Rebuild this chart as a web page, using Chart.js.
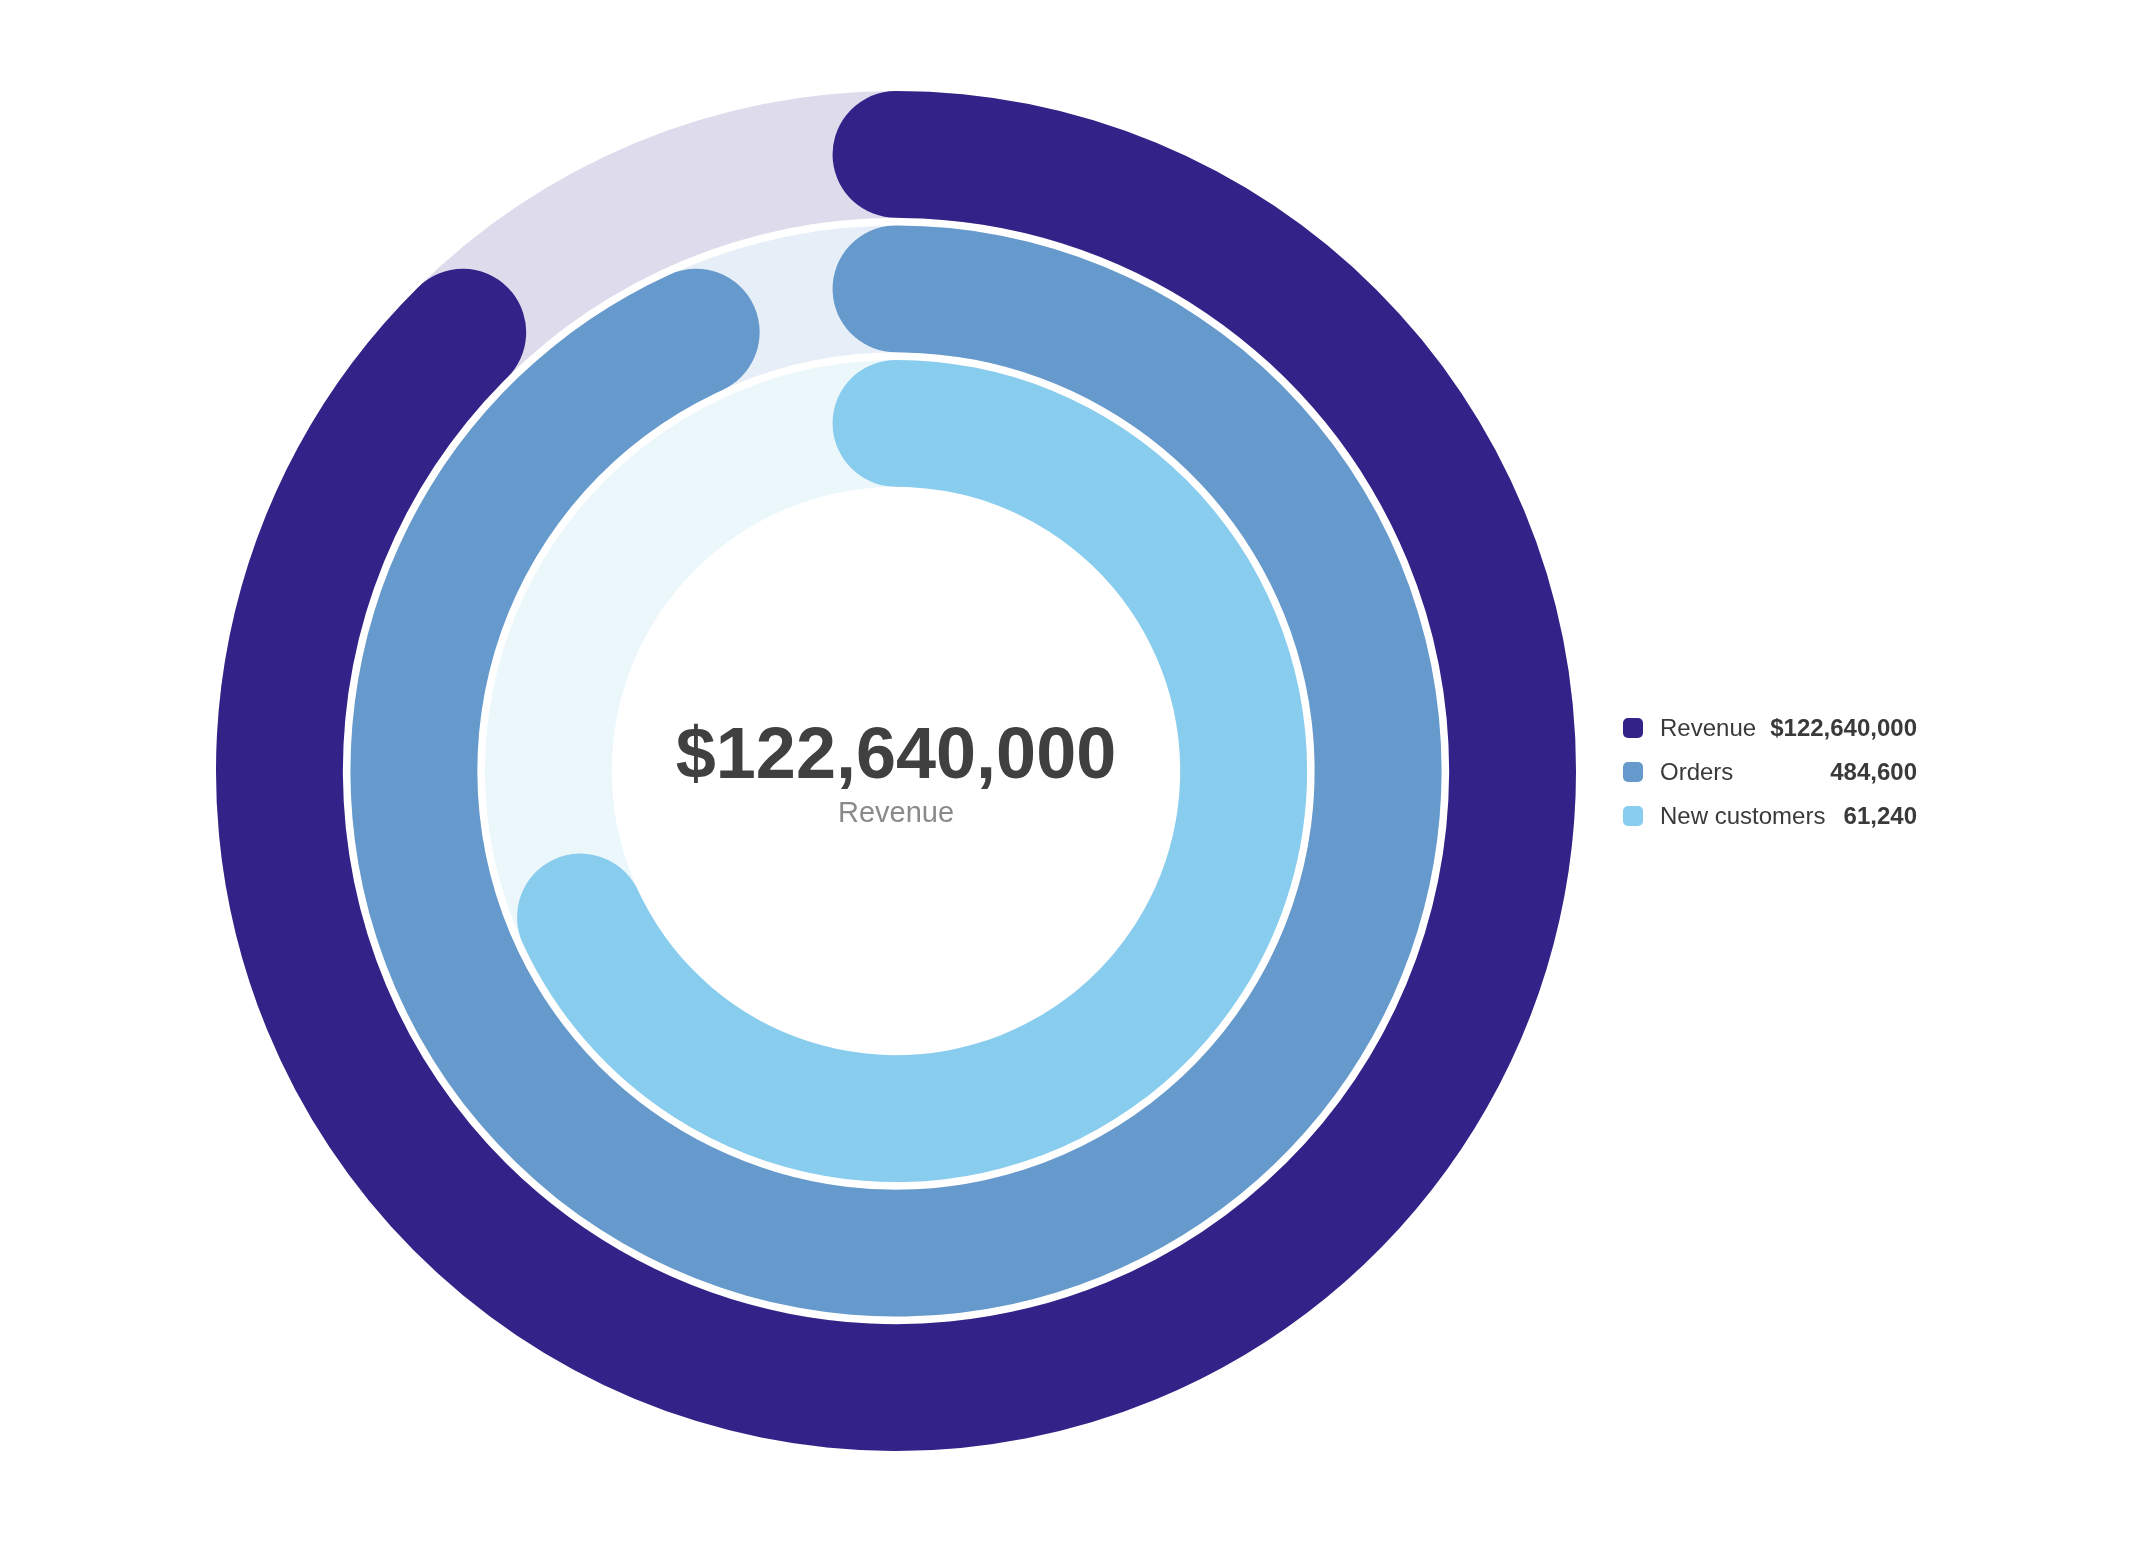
<!DOCTYPE html>
<html>
<head>
<meta charset="utf-8">
<script src="https://cdn.jsdelivr.net/npm/chart.js@4.4.1/dist/chart.umd.min.js"></script>
<style>
  html, body { margin: 0; padding: 0; background: #fff; }
  #wrap { width: 2144px; height: 1544px; position: relative; }
</style>
</head>
<body>
<div id="wrap"><canvas id="chart"></canvas></div>
<script>
const labels = ['Revenue', 'Orders', 'New customers']
const values = [122640000, 484600, 61240]
const valuePrefix = ['$', '', '']
// filled share of each ring (%)
const percents = [87.6, 93.2, 68.1]
const colors = ['#332288', '#6699cc', '#88ccee']
const trackColors = ['rgba(51,34,136,0.16)', 'rgba(102,153,204,0.16)', 'rgba(136,204,238,0.16)']

const CUTOUT = 0.418
const RING_WEIGHT = 1
const GAP_WEIGHT = 0.06
const FONT = '"Liberation Sans", Arial, sans-serif'

function fmt(i) {
  return valuePrefix[i] + values[i].toLocaleString('en-US')
}

// angle (deg) that a round cap of half the ring thickness covers on the ring's centre line
function capAngle(ringIndex) {
  const n = labels.length
  const unit = (1 - CUTOUT) / (n * RING_WEIGHT + (n - 1) * GAP_WEIGHT)
  const outer = 1 - unit * ringIndex * (RING_WEIGHT + GAP_WEIGHT)
  const mid = outer - unit / 2
  return (unit / 2) / mid * 180 / Math.PI
}

const datasets = []
labels.forEach((label, i) => {
  if (i > 0) {
    // thin white spacer ring between two bars
    datasets.push({
      data: [1],
      backgroundColor: 'rgba(0,0,0,0)',
      borderWidth: 0,
      weight: GAP_WEIGHT,
    })
  }
  const cap = capAngle(i)
  const sweep = percents[i] * 3.6 + 2 * cap
  datasets.push({
    label,
    data: [percents[i], 100 - percents[i]],
    backgroundColor: [colors[i], 'rgba(0,0,0,0)'],
    borderWidth: 0,
    borderRadius: [1000, 0],
    rotation: -cap,
    circumference: sweep * 100 / percents[i],
    weight: RING_WEIGHT,
    trackColor: trackColors[i],
  })
})

/**
 * Full light ring behind each bar.
 */
const trackPlugin = {
  id: 'ringTracks',
  beforeDatasetsDraw(chart) {
    const { ctx } = chart
    chart.data.datasets.forEach((ds, i) => {
      if (!ds.trackColor) return
      const arc = chart.getDatasetMeta(i).data[0]
      if (!arc) return
      const { x, y, innerRadius, outerRadius } = arc
      ctx.save()
      ctx.fillStyle = ds.trackColor
      ctx.beginPath()
      ctx.arc(x, y, outerRadius, 0, Math.PI * 2)
      ctx.arc(x, y, innerRadius, Math.PI * 2, 0, true)
      ctx.fill()
      ctx.restore()
    })
  },
}

/**
 * Big number in the hole plus the value legend on the right.
 */
const labelsPlugin = {
  id: 'centerAndLegend',
  afterDraw(chart) {
    const { ctx, chartArea } = chart
    const arc = chart.getDatasetMeta(0).data[0]
    if (!arc) return
    const { x, y } = arc

    ctx.save()
    ctx.textAlign = 'center'
    ctx.textBaseline = 'alphabetic'
    ctx.fillStyle = '#404040'
    ctx.font = 'bold 72px ' + FONT
    ctx.fillText(fmt(0), x, y + 7)
    ctx.fillStyle = '#8a8a8a'
    ctx.font = '29px ' + FONT
    ctx.fillText(labels[0], x, y + 51)

    // legend
    const markerX = chartArea.right + 47
    const textX = markerX + 37
    const valueX = chartArea.right + 341
    ctx.textBaseline = 'middle'
    labels.forEach((label, i) => {
      const rowY = y + (i - 1) * 44 + 1
      ctx.fillStyle = colors[i]
      ctx.beginPath()
      ctx.roundRect(markerX, rowY - 10, 20, 20, 5)
      ctx.fill()

      ctx.fillStyle = '#3a3a3a'
      ctx.textAlign = 'left'
      ctx.font = '24px ' + FONT
      ctx.fillText(label, textX, rowY + 1)

      ctx.textAlign = 'right'
      ctx.font = 'bold 24px ' + FONT
      ctx.fillText(fmt(i), valueX, rowY + 1)
    })
    ctx.restore()
  },
}

new Chart(document.getElementById('chart'), {
  type: 'doughnut',
  data: { labels: ['value', 'rest'], datasets },
  options: {
    responsive: true,
    maintainAspectRatio: false,
    animation: false,
    events: [],
    cutout: (CUTOUT * 100) + '%',
    layout: {
      padding: { left: 216, top: 91, right: 568, bottom: 93 },
    },
    plugins: {
      legend: { display: false },
      tooltip: { enabled: false },
    },
  },
  plugins: [trackPlugin, labelsPlugin],
})
</script>
</body>
</html>
